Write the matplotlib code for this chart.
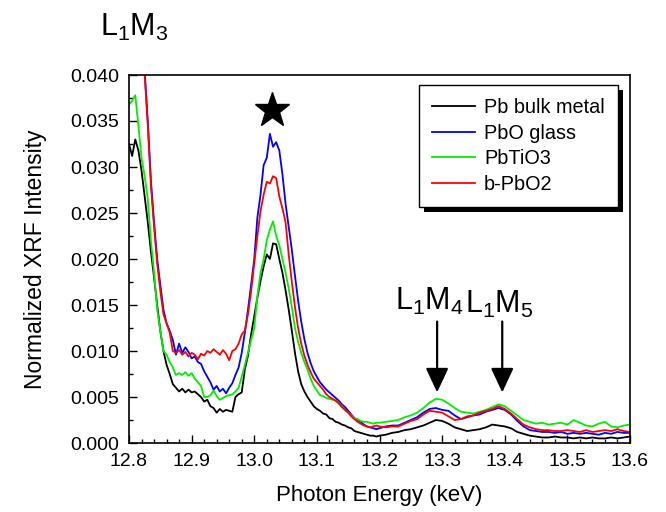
import numpy as np
import matplotlib
matplotlib.use("Agg")
import matplotlib.pyplot as plt
from matplotlib.patches import Rectangle
from matplotlib.ticker import MultipleLocator, FormatStrFormatter

plt.rcParams['font.family'] = ['Liberation Sans', 'DejaVu Sans']
plt.rcParams['mathtext.fontset'] = 'custom'
plt.rcParams['mathtext.rm'] = 'Liberation Sans'
plt.rcParams['mathtext.it'] = 'Liberation Sans'
plt.rcParams['mathtext.default'] = 'rm'

# Photon energy grid (keV): 5 eV steps up to 13.20, 10 eV steps after
energy = np.round(np.concatenate([np.arange(12.800, 13.2001, 0.005),
                                  np.arange(13.21, 13.6001, 0.01)]), 3)

pb_metal = [
    # 12.800 - 13.200 (5 eV)
    0.0325, 0.0312, 0.0330, 0.0318, 0.0296, 0.0268, 0.0240, 0.0208, 0.0180, 0.0150,
    0.0122, 0.0100, 0.0085, 0.0075, 0.0064, 0.0060, 0.0056, 0.0059, 0.0055, 0.0058,
    0.0055, 0.0056, 0.0053, 0.0050, 0.0045, 0.0047, 0.0040, 0.0038, 0.0033, 0.0037,
    0.0034, 0.0036, 0.0035, 0.0034, 0.0050, 0.0053, 0.0055, 0.0080, 0.0095, 0.0118,
    0.0138, 0.0158, 0.0176, 0.0192, 0.0205, 0.0200, 0.0217, 0.0216, 0.0200, 0.0185,
    0.0166, 0.0145, 0.0122, 0.0098, 0.0078, 0.0064, 0.0056, 0.0050, 0.0045, 0.0040,
    0.0037, 0.0035, 0.0032, 0.0031, 0.0027, 0.0026, 0.0023, 0.0022, 0.0020, 0.0019,
    0.0017, 0.0016, 0.0013, 0.0012, 0.0011, 0.0010, 0.0009, 0.0008, 0.0008, 0.0007,
    0.0008,
    # 13.21 - 13.60 (10 eV)
    0.0009, 0.0011, 0.0012, 0.0014, 0.0015, 0.0017, 0.0019, 0.0022, 0.0025,
    0.0024, 0.0021, 0.0017, 0.0015, 0.0013, 0.0014, 0.0015, 0.0017, 0.0020, 0.0019,
    0.0018, 0.0016, 0.0012, 0.0010, 0.0008, 0.0007, 0.0006, 0.0006, 0.0007, 0.0006,
    0.0006, 0.0005, 0.0006, 0.0005, 0.0006, 0.0005, 0.0005, 0.0006, 0.0005, 0.0006,
    0.0007]

pbo_glass = [
    0.0600, 0.0560, 0.0520, 0.0480, 0.0445, 0.0405, 0.0350, 0.0285, 0.0240, 0.0200,
    0.0172, 0.0145, 0.0130, 0.0122, 0.0112, 0.0096, 0.0108, 0.0098, 0.0104, 0.0099,
    0.0092, 0.0094, 0.0088, 0.0086, 0.0078, 0.0072, 0.0066, 0.0058, 0.0062, 0.0056,
    0.0059, 0.0054, 0.0060, 0.0065, 0.0074, 0.0082, 0.0098, 0.0120, 0.0145, 0.0172,
    0.0200, 0.0245, 0.0270, 0.0302, 0.0310, 0.0336, 0.0322, 0.0327, 0.0318, 0.0292,
    0.0260, 0.0235, 0.0210, 0.0182, 0.0155, 0.0132, 0.0113, 0.0098, 0.0087, 0.0078,
    0.0072, 0.0066, 0.0062, 0.0058, 0.0055, 0.0052, 0.0049, 0.0046, 0.0042, 0.0039,
    0.0035, 0.0031, 0.0027, 0.0025, 0.0023, 0.0020, 0.0018, 0.0017, 0.0016, 0.0015,
    0.0016,
    0.0018, 0.0019, 0.0019, 0.0022, 0.0025, 0.0028, 0.0033, 0.0037, 0.0038,
    0.0036, 0.0035, 0.0030, 0.0026, 0.0028, 0.0030, 0.0031, 0.0034, 0.0036, 0.0038,
    0.0036, 0.0031, 0.0024, 0.0018, 0.0014, 0.0013, 0.0012, 0.0012, 0.0011, 0.0012,
    0.0010, 0.0011, 0.0010, 0.0011, 0.0010, 0.0009, 0.0011, 0.0010, 0.0012, 0.0011,
    0.0011]

pbtio3 = [
    0.0368, 0.0372, 0.0378, 0.0345, 0.0310, 0.0290, 0.0265, 0.0220, 0.0185, 0.0145,
    0.0122, 0.0100, 0.0096, 0.0088, 0.0082, 0.0074, 0.0076, 0.0074, 0.0077, 0.0073,
    0.0076, 0.0070, 0.0066, 0.0062, 0.0050, 0.0050, 0.0052, 0.0057, 0.0051, 0.0047,
    0.0049, 0.0051, 0.0052, 0.0053, 0.0056, 0.0060, 0.0072, 0.0085, 0.0098, 0.0112,
    0.0125, 0.0160, 0.0185, 0.0200, 0.0220, 0.0232, 0.0241, 0.0225, 0.0215, 0.0200,
    0.0185, 0.0168, 0.0148, 0.0125, 0.0110, 0.0098, 0.0088, 0.0080, 0.0070, 0.0062,
    0.0057, 0.0052, 0.0051, 0.0049, 0.0048, 0.0047, 0.0046, 0.0043, 0.0040, 0.0036,
    0.0033, 0.0030, 0.0027, 0.0026, 0.0024, 0.0023, 0.0023, 0.0022, 0.0021, 0.0022,
    0.0022,
    0.0023, 0.0024, 0.0025, 0.0028, 0.0030, 0.0033, 0.0038, 0.0044, 0.0048,
    0.0047, 0.0043, 0.0038, 0.0034, 0.0033, 0.0032, 0.0034, 0.0036, 0.0039, 0.0042,
    0.0040, 0.0035, 0.0030, 0.0025, 0.0023, 0.0021, 0.0022, 0.0020, 0.0021, 0.0022,
    0.0020, 0.0025, 0.0022, 0.0019, 0.0018, 0.0021, 0.0023, 0.0018, 0.0017, 0.0019,
    0.0020]

b_pbo2 = [
    0.0600, 0.0560, 0.0520, 0.0480, 0.0440, 0.0400, 0.0345, 0.0280, 0.0235, 0.0195,
    0.0165, 0.0140, 0.0130, 0.0120, 0.0100, 0.0098, 0.0101, 0.0096, 0.0099, 0.0094,
    0.0098, 0.0096, 0.0091, 0.0097, 0.0095, 0.0100, 0.0098, 0.0102, 0.0099, 0.0096,
    0.0101, 0.0097, 0.0090, 0.0100, 0.0102, 0.0108, 0.0118, 0.0122, 0.0140, 0.0165,
    0.0195, 0.0225, 0.0252, 0.0270, 0.0284, 0.0282, 0.0290, 0.0288, 0.0268, 0.0255,
    0.0240, 0.0205, 0.0175, 0.0148, 0.0125, 0.0108, 0.0095, 0.0085, 0.0077, 0.0070,
    0.0066, 0.0062, 0.0058, 0.0053, 0.0050, 0.0048, 0.0046, 0.0043, 0.0039, 0.0036,
    0.0033, 0.0029, 0.0026, 0.0023, 0.0021, 0.0019, 0.0018, 0.0017, 0.0018, 0.0019,
    0.0018,
    0.0017, 0.0018, 0.0018, 0.0021, 0.0024, 0.0026, 0.0031, 0.0035, 0.0034,
    0.0033, 0.0029, 0.0025, 0.0026, 0.0029, 0.0030, 0.0033, 0.0035, 0.0037, 0.0040,
    0.0037, 0.0032, 0.0026, 0.0020, 0.0017, 0.0015, 0.0014, 0.0014, 0.0013, 0.0013,
    0.0014, 0.0013, 0.0012, 0.0014, 0.0012, 0.0013, 0.0014, 0.0013, 0.0015, 0.0013,
    0.0012]

series_labels = ["Pb bulk metal", "PbO glass", "PbTiO3", "b-PbO2"]
series_colors = ["#000000", "#0000ff", "#00ee00", "#ff0000"]

# Peak annotations
star_pos = (13.028, 0.0362)
arrow_x = [13.292, 13.396]
arrow_labels = ["L$_1$M$_4$", "L$_1$M$_5$"]

fig = plt.figure(figsize=(6.66, 5.12), dpi=100)
ax = fig.add_axes([129/666, 1 - 443/512, 501/666, 368/512])

for vals, lab, col in zip([pb_metal, pbo_glass, pbtio3, b_pbo2], series_labels, series_colors):
    ax.plot(energy, vals, color=col, lw=1.3, label=lab)

ax.set_xlim(12.8, 13.6)
ax.set_ylim(0.0, 0.040)
ax.xaxis.set_major_locator(MultipleLocator(0.1))
ax.xaxis.set_minor_locator(MultipleLocator(0.02))
ax.yaxis.set_major_locator(MultipleLocator(0.005))
ax.yaxis.set_minor_locator(MultipleLocator(0.0025))
ax.xaxis.set_major_formatter(FormatStrFormatter('%.1f'))
ax.yaxis.set_major_formatter(FormatStrFormatter('%.3f'))
ax.tick_params(which='both', direction='in', top=False, right=False, labelsize=14, width=1.0)
ax.tick_params(which='major', length=6, pad=7)
ax.tick_params(which='minor', length=3)
for sp in ax.spines.values():
    sp.set_linewidth(1.2)

ax.set_xlabel("Photon Energy (keV)", fontsize=16, labelpad=11)
ax.set_ylabel("Normalized XRF Intensity", fontsize=16.5, labelpad=17)

ax.plot([star_pos[0]], [star_pos[1]], marker='*', color='black', markersize=26, ls='none')

for xa in arrow_x:
    ax.annotate("", xy=(xa, 0.0055), xytext=(xa, 0.0132),
                arrowprops=dict(arrowstyle='-|>,head_width=0.35,head_length=0.75',
                                color='black', lw=1.6, mutation_scale=20,
                                shrinkA=0, shrinkB=0))
ax.text(arrow_x[0] - 0.013, 0.0145, arrow_labels[0], fontsize=22, ha='center', va='baseline')
ax.text(arrow_x[1] - 0.005, 0.0141, arrow_labels[1], fontsize=22, ha='center', va='baseline')

fig.text(100/666, 1 - 36/512, "L$_1$M$_3$", fontsize=22, ha='left', va='baseline')

leg = ax.legend(loc='upper right', bbox_to_anchor=(0.976, 0.973), borderaxespad=0,
                fontsize=14.3, frameon=True, fancybox=False, edgecolor='black',
                framealpha=1, handlelength=2.15, handletextpad=0.45, labelspacing=0.33,
                borderpad=0.67)
leg.get_frame().set_linewidth(1.0)
leg.set_zorder(6)

fig.canvas.draw()
bb = leg.get_frame().get_window_extent().transformed(ax.transAxes.inverted())
dx = 5 / 501
dy = 5 / 368
shadow = Rectangle((bb.x0 + dx, bb.y0 - dy), bb.width, bb.height, transform=ax.transAxes,
                   facecolor='black', edgecolor='none', zorder=5.5, clip_on=False)
ax.add_patch(shadow)

fig.savefig("out.png", dpi=100)
